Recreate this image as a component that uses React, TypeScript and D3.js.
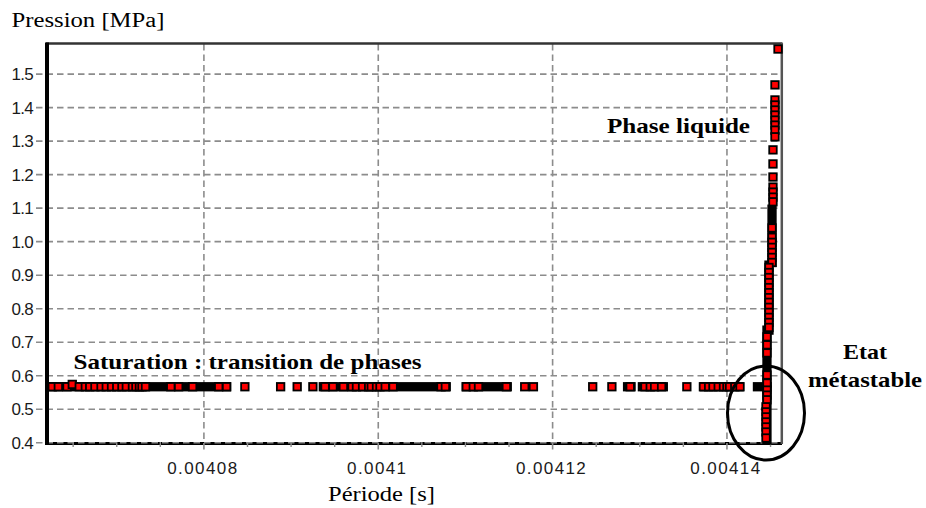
import React from 'react';
import * as d3 from 'd3';

const W = 926;
const H = 508;

// Axis ticks
const yTicks = [0.4, 0.5, 0.6, 0.7, 0.8, 0.9, 1.0, 1.1, 1.2, 1.3, 1.4, 1.5];
const xTicks = [0.00408, 0.0041, 0.00412, 0.00414];
const xTickLabels = ['0.00408', '0.0041', '0.00412', '0.00414'];
const xMinorTicks = [
  0.004065, 0.00407, 0.004075, 0.004085, 0.00409, 0.004095, 0.004105, 0.00411,
  0.004115, 0.004125, 0.00413, 0.004135, 0.004145,
];

// Saturation plateau: visible individual markers
const satTime = [
  0.0040626, 0.0040633, 0.0040643, 0.0040649, 0.0040657, 0.0040664, 0.0040669, 0.0040675,
  0.0040682, 0.0040688, 0.0040694, 0.00407, 0.0040706, 0.0040711, 0.0040718, 0.0040722,
  0.0040726, 0.0040729, 0.0040733, 0.0040762, 0.0040771, 0.0040787, 0.0040817, 0.0040826,
  0.0040847, 0.0040888, 0.0040907, 0.0040925, 0.0040939, 0.0040948, 0.004096, 0.004097,
  0.0040975, 0.0040982, 0.0040989, 0.0040992, 0.0040998, 0.0041002, 0.0041008, 0.0041017,
  0.0041072, 0.0041077, 0.0041101, 0.0041109, 0.0041115, 0.0041147, 0.0041168, 0.0041178,
  0.0041246, 0.0041268, 0.0041289, 0.0041306, 0.0041312, 0.0041317, 0.0041325, 0.0041354,
  0.0041373, 0.0041379, 0.0041384, 0.004139, 0.0041396, 0.00414, 0.0041403, 0.0041409,
  0.0041415,
];
const satPress = [
  0.567, 0.567, 0.567, 0.574, 0.567, 0.567, 0.567, 0.567,
  0.567, 0.567, 0.567, 0.567, 0.567, 0.567, 0.567, 0.567,
  0.567, 0.567, 0.567, 0.567, 0.567, 0.567, 0.567, 0.567,
  0.567, 0.567, 0.567, 0.567, 0.567, 0.567, 0.567, 0.567,
  0.567, 0.567, 0.567, 0.567, 0.567, 0.567, 0.567, 0.567,
  0.567, 0.567, 0.567, 0.567, 0.567, 0.567, 0.567, 0.567,
  0.567, 0.567, 0.567, 0.567, 0.567, 0.567, 0.567, 0.567,
  0.567, 0.567, 0.567, 0.567, 0.567, 0.567, 0.567, 0.567,
  0.567,
];
// Saturation plateau: dense runs of overlapping markers (appear black)
const satRunStart = [0.0040625, 0.0040937, 0.0041101, 0.0041286, 0.0041303, 0.0041374, 0.0041435];
const satRunEnd = [0.0040826, 0.0041078, 0.0041148, 0.004129, 0.0041327, 0.0041414, 0.0041446];
const satRunPress = [0.567, 0.567, 0.567, 0.567, 0.567, 0.567, 0.567];

// Liquid phase / metastable: near-vertical branch
const liqTime = [
  0.00414586, 0.00414551, 0.00414551, 0.00414551, 0.00414551, 0.00414551, 0.00414551, 0.00414551,
  0.00414551, 0.00414551, 0.00414528, 0.00414528, 0.00414528, 0.00414528, 0.00414528, 0.00414528,
  0.00414528, 0.00414517, 0.00414517, 0.00414517, 0.00414517, 0.00414517, 0.00414517, 0.00414517,
  0.00414482, 0.00414482, 0.00414482, 0.00414482, 0.00414482, 0.00414482, 0.00414482, 0.00414482,
  0.00414482, 0.00414482, 0.00414482, 0.00414482, 0.00414482, 0.00414459, 0.00414459, 0.00414459,
  0.00414459, 0.00414459, 0.00414459, 0.00414459, 0.00414459, 0.00414448, 0.00414448, 0.00414448,
  0.00414448, 0.00414448, 0.00414448, 0.00414448,
];
const liqPress = [
  1.575, 1.468, 1.423, 1.408, 1.393, 1.378, 1.363, 1.348,
  1.333, 1.313, 1.274, 1.232, 1.193, 1.163, 1.148, 1.133,
  1.119, 1.041, 1.013, 0.998, 0.983, 0.968, 0.953, 0.938,
  0.923, 0.908, 0.893, 0.878, 0.863, 0.848, 0.833, 0.819,
  0.804, 0.789, 0.774, 0.759, 0.744, 0.716, 0.692, 0.668,
  0.602, 0.578, 0.557, 0.542, 0.528, 0.507, 0.492, 0.477,
  0.462, 0.447, 0.432, 0.414,
];
const liqRunTime = [0.00414517, 0.00414482, 0.00414459];
const liqRunTop = [1.097, 0.93, 0.736];
const liqRunBottom = [0.938, 0.736, 0.408];

const SERIF = "'Liberation Serif', 'Times New Roman', serif";
const SANS = "'Liberation Sans', Arial, sans-serif";

export default function App() {
  const x = d3.scaleLinear().domain([0.004062, 0.0041462]).range([47, 781]);
  const y = d3.scaleLinear().domain([0.4, 1.59]).range([442.7, 44]);
  const fmtY = d3.format('.1f');

  const S = 7.5; // marker size
  const SW = 1.8; // marker stroke
  const OUT = S + SW;
  const gridColor = '#8c8c8c';
  const dash = '6.5,4';

  return (
    <svg
      width={W}
      height={H}
      viewBox={`0 0 ${W} ${H}`}
      style={{ position: 'absolute', left: 0, top: 0, background: '#fff' }}
    >
      <rect x={0} y={0} width={W} height={H} fill="#fff" />

      {/* bottom axis line */}
      <line x1={46} x2={782} y1={443.5} y2={443.5} stroke="#000" strokeWidth={3} />

      {/* horizontal gridlines + y ticks */}
      {yTicks.map((v) => (
        <line
          key={'hy' + v}
          x1={36}
          x2={781}
          y1={y(v)}
          y2={y(v)}
          stroke={gridColor}
          strokeWidth={1.6}
          strokeDasharray={dash}
        />
      ))}
      {/* vertical gridlines */}
      {xTicks.map((v) => (
        <line
          key={'vx' + v}
          x1={x(v)}
          x2={x(v)}
          y1={44}
          y2={450}
          stroke={gridColor}
          strokeWidth={1.6}
          strokeDasharray={dash}
        />
      ))}
      {/* minor ticks */}
      {xMinorTicks.map((v) => (
        <line
          key={'mx' + v}
          x1={x(v)}
          x2={x(v)}
          y1={442}
          y2={447}
          stroke={gridColor}
          strokeWidth={1.4}
        />
      ))}

      {/* frame: top and right */}
      <line x1={46} x2={782.5} y1={43.5} y2={43.5} stroke="#333" strokeWidth={2.5} />
      <line x1={781.8} x2={781.8} y1={43} y2={444} stroke="#555" strokeWidth={2.5} />
      {/* left axis */}
      <line x1={47} x2={47} y1={42.5} y2={445} stroke="#000" strokeWidth={4} />

      {/* y tick labels */}
      {yTicks.map((v) => (
        <text
          key={'ly' + v}
          x={33}
          y={y(v)}
          dy="0.36em"
          textAnchor="end"
          fontFamily={SANS}
          fontSize={17}
          letterSpacing={-0.7}
          fill="#1a1a1a"
        >
          {fmtY(v)}
        </text>
      ))}
      {/* x tick labels */}
      {xTicks.map((v, i) => (
        <text
          key={'lx' + v}
          x={x(v) - 1}
          y={474}
          textAnchor="middle"
          fontFamily={SANS}
          fontSize={17}
          letterSpacing={1.4}
          fill="#1a1a1a"
        >
          {xTickLabels[i]}
        </text>
      ))}

      {/* dense runs on the saturation plateau */}
      {satRunStart.map((t0, i) => (
        <rect
          key={'sr' + i}
          x={x(t0) - OUT / 2}
          y={y(satRunPress[i]) - OUT / 2}
          width={x(satRunEnd[i]) - x(t0) + OUT}
          height={OUT}
          fill="#000"
        />
      ))}
      {/* dense runs on the vertical branch */}
      {liqRunTime.map((t, i) => (
        <rect
          key={'lr' + i}
          x={x(t) - OUT / 2}
          y={y(liqRunTop[i]) - OUT / 2}
          width={OUT}
          height={y(liqRunBottom[i]) - y(liqRunTop[i]) + OUT}
          fill="#000"
        />
      ))}

      {/* markers */}
      {satTime.map((t, i) => (
        <rect
          key={'sm' + i}
          x={x(t) - S / 2}
          y={y(satPress[i]) - S / 2}
          width={S}
          height={S}
          fill="#ff0000"
          stroke="#000"
          strokeWidth={SW}
        />
      ))}
      {liqTime.map((t, i) => (
        <rect
          key={'lm' + i}
          x={x(t) - S / 2}
          y={y(liqPress[i]) - S / 2}
          width={S}
          height={S}
          fill="#ff0000"
          stroke="#000"
          strokeWidth={SW}
        />
      ))}

      {/* ellipse around metastable state */}
      <ellipse cx={766} cy={413} rx={38.5} ry={47} fill="none" stroke="#000" strokeWidth={3} />

      {/* titles */}
      <text x={11.5} y={27} fontFamily={SERIF} fontSize={20} textLength={153} lengthAdjust="spacingAndGlyphs" fill="#000">
        Pression [MPa]
      </text>
      <text x={328} y={501} fontFamily={SERIF} fontSize={20} textLength={107} lengthAdjust="spacingAndGlyphs" fill="#000">
        Période [s]
      </text>

      {/* annotations */}
      <text x={73.5} y={368.5} fontFamily={SERIF} fontWeight="bold" fontSize={22} textLength={348} lengthAdjust="spacingAndGlyphs" fill="#000">
        Saturation : transition de phases
      </text>
      <text x={607} y={133} fontFamily={SERIF} fontWeight="bold" fontSize={22} textLength={143} lengthAdjust="spacingAndGlyphs" fill="#000">
        Phase liquide
      </text>
      <text x={843} y={359} fontFamily={SERIF} fontWeight="bold" fontSize={22} textLength={44} lengthAdjust="spacingAndGlyphs" fill="#000">
        Etat
      </text>
      <text x={808} y={387} fontFamily={SERIF} fontWeight="bold" fontSize={22} textLength={114} lengthAdjust="spacingAndGlyphs" fill="#000">
        métastable
      </text>
    </svg>
  );
}
